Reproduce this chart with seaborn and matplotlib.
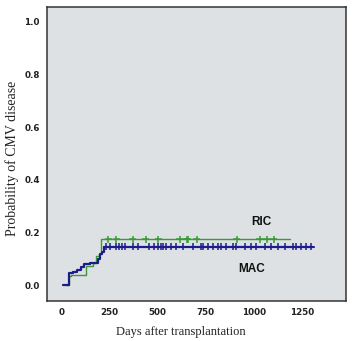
import numpy as np
import pandas as pd
import matplotlib
matplotlib.use("Agg")
import matplotlib.pyplot as plt
import seaborn as sns

# step curves (days, cumulative probability)
mac_days = [8, 40, 60, 80, 100, 120, 150, 190, 200, 210, 220, 1310]
mac_prob = [0.0, 0.045, 0.052, 0.058, 0.068, 0.08, 0.085, 0.10, 0.118, 0.128, 0.147, 0.147]
ric_days = [25, 40, 50, 128, 165, 180, 198, 206, 1190]
ric_prob = [0.0, 0.035, 0.04, 0.075, 0.085, 0.11, 0.12, 0.175, 0.175]

# censored observations
mac_cens = [233, 254, 285, 302, 316, 333, 371, 397, 458, 484, 502, 519, 531, 545,
            571, 597, 632, 684, 727, 736, 762, 788, 814, 832, 858, 892, 910, 953,
            988, 1014, 1057, 1092, 1127, 1161, 1205, 1222, 1248, 1274, 1300]
ric_cens = [245, 286, 370, 438, 505, 615, 651, 656, 703, 911, 1031, 1068, 1104]

xticks = [0, 250, 500, 750, 1000, 1250]
yticks = [0.0, 0.2, 0.4, 0.6, 0.8, 1.0]

mac_col = "#1c1c8c"
ric_col = "#3a9a3a"

curves = pd.concat([
    pd.DataFrame({"days": mac_days, "prob": mac_prob, "group": "MAC"}),
    pd.DataFrame({"days": ric_days, "prob": ric_prob, "group": "RIC"}),
])
cens = pd.concat([
    pd.DataFrame({"days": mac_cens, "prob": mac_prob[-1], "group": "MAC"}),
    pd.DataFrame({"days": ric_cens, "prob": ric_prob[-1], "group": "RIC"}),
])
pal = {"MAC": mac_col, "RIC": ric_col}

sns.set_style("white")
fig = plt.figure(figsize=(3.53, 3.41), dpi=100)
ax = fig.add_axes([0.133, 0.117, 0.847, 0.862])
ax.set_facecolor("#dde1e4")

sns.lineplot(data=curves[curves.group == "RIC"], x="days", y="prob", color=ric_col,
             drawstyle="steps-post", estimator=None, lw=1.0, ax=ax, legend=False)
sns.lineplot(data=curves[curves.group == "MAC"], x="days", y="prob", color=mac_col,
             drawstyle="steps-post", estimator=None, lw=1.6, ax=ax, legend=False)
sns.scatterplot(data=cens, x="days", y="prob", hue="group", palette=pal, marker="+",
                s=26, linewidth=1.1, ax=ax, legend=False)

ax.set_xlim(-75, 1480)
ax.set_ylim(-0.06, 1.055)
ax.set_xticks(xticks)
ax.set_yticks(yticks)
ax.set_xticklabels([str(t) for t in xticks], fontsize=6.3, fontweight="bold")
ax.set_yticklabels([f"{t:.1f}" for t in yticks], fontsize=6.3, fontweight="bold")
ax.tick_params(axis="both", length=3, width=0.8, pad=2, colors="#222222")
for s in ax.spines.values():
    s.set_color("#333333")
    s.set_linewidth(1.1)

ax.set_xlabel("Days after transplantation", family="Liberation Serif", fontsize=9,
              color="#222222")
ax.set_ylabel("Probability of CMV disease", family="Liberation Serif", fontsize=10,
              color="#222222")
ax.xaxis.set_label_coords(0.448, -0.085)
ax.yaxis.set_label_coords(-0.095, 0.486)

ax.text(1040, 0.24, "RIC", fontsize=8.5, fontweight="bold", family="Liberation Sans",
        ha="center", va="center", color="#111111")
ax.text(990, 0.06, "MAC", fontsize=8.5, fontweight="bold", family="Liberation Sans",
        ha="center", va="center", color="#111111")

fig.savefig("out.png", dpi=100)
